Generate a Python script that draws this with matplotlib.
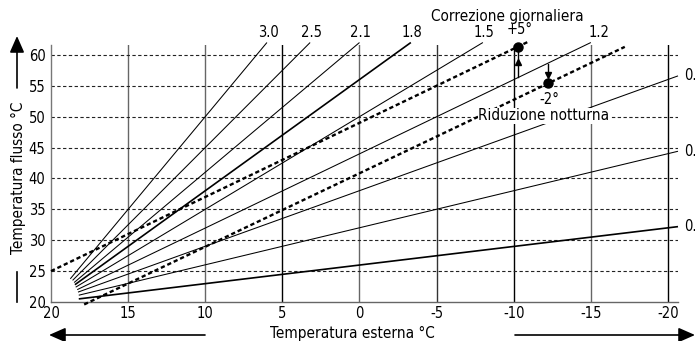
import matplotlib
matplotlib.use("Agg")
import matplotlib.pyplot as plt

plt.rcParams['font.family'] = ['DejaVu Sans']
plt.rcParams['font.stretch'] = 'condensed'

# ---- data ----
curve_labels = ["3.0", "2.5", "2.1", "1.8", "1.5", "1.2", "0.", "0.", "0."]
curve_start_ext = [18.75, 18.6, 18.5, 18.45, 18.4, 18.3, 18.25, 18.2, 18.2]
curve_start_flow = [23.75, 23.5, 23.15, 22.8, 22.4, 22.0, 21.6, 21.1, 20.5]
curve_end_ext = [6.0, 3.2, 0.0, -3.33, -8.0, -15.0, -20.65, -20.65, -20.65]
curve_end_flow = [62.0, 62.0, 62.0, 62.0, 62.0, 62.0, 56.6, 44.4, 32.2]

day_corr_ext = [20.0, -11.0]          # Correzione giornaliera (+5°)
day_corr_flow = [25.0, 62.2]
night_red_ext = [17.85, -17.2]        # Riduzione notturna (-2°)
night_red_flow = [19.6, 61.3]

day_point = (-10.3, 61.3)
day_base_flow = 56.4
night_point = (-12.25, 55.4)
night_base_flow = 58.5

x_ticks = [20, 15, 10, 5, 0, -5, -10, -15, -20]
x_ticklabels = ["20", "15", "10", "5", "0", "-5", "-10", "-15", "-20"]
y_ticks = [20, 25, 30, 35, 40, 45, 50, 55, 60]
y_ticklabels = ["20", "25", "30", "35", "40", "45", "50", "55", "60"]

# ---- figure ----
W, H = 695, 341
fig = plt.figure(figsize=(W / 100, H / 100), dpi=100)
ax = fig.add_axes([51 / W, 1 - 302 / H, 627 / W, 257 / H])
ax.set_xlim(20, -20.65)
ax.set_ylim(20, 61.6)

for s in ["top", "right"]:
    ax.spines[s].set_visible(False)
ax.spines["left"].set_color("#777777")
ax.spines["bottom"].set_color("#666666")
ax.spines["left"].set_linewidth(1.0)
ax.spines["bottom"].set_linewidth(1.0)

ax.set_xticks(x_ticks)
ax.set_xticklabels(x_ticklabels)
ax.set_yticks(y_ticks)
ax.set_yticklabels(y_ticklabels)
ax.tick_params(axis="both", length=0, labelsize=10.5)
ax.tick_params(axis="y", pad=4)
ax.tick_params(axis="x", pad=3)

# grid
vcolors = ["#666666", "#666666", "black", "#666666", "#333333", "black", "#666666", "black"]
for x, c in zip(x_ticks[1:], vcolors):
    ax.axvline(x, color=c, lw=1.0, zorder=1)
for y in y_ticks[1:]:
    ax.axhline(y, color="#222222", lw=0.8, ls=(0, (3, 2.2)), zorder=1)

# curves
bold = {3, 8}
label_dx = {5: 5.0}
for i, (lab, x0, y0, x1, y1) in enumerate(zip(curve_labels, curve_start_ext, curve_start_flow,
                                              curve_end_ext, curve_end_flow)):
    lw = 1.2 if i in bold else 0.75
    ax.plot([x0, x1], [y0, y1], color="black", lw=lw, zorder=3,
            clip_on=False, solid_capstyle="butt")
    if y1 >= 61.6:
        ax.annotate(lab, (x1, y1), xytext=(0.8 + label_dx.get(i, 0), 1.5),
                    textcoords="offset points", ha="center", va="bottom",
                    fontsize=10.5, annotation_clip=False)
    else:
        ax.annotate(lab, (x1, y1), xytext=(4.3, 0), textcoords="offset points",
                    ha="left", va="center", fontsize=10.5, annotation_clip=False)

# corrected curves
ax.plot(day_corr_ext, day_corr_flow, color="black", lw=1.7,
        ls=(0, (1.8, 1.2)), zorder=4, clip_on=False)
ax.plot(night_red_ext, night_red_flow, color="black", lw=1.7,
        ls=(0, (1.8, 1.2)), zorder=4, clip_on=False)

# points and arrows
ax.plot([day_point[0], day_point[0]], [day_base_flow, day_point[1]],
        color="black", lw=1.0, zorder=4, clip_on=False)
ax.plot([day_point[0]], [(day_base_flow + day_point[1]) / 2], marker="^",
        color="black", ms=5, zorder=5, clip_on=False)
ax.plot([day_point[0]], [day_point[1]], marker="o", color="black", ms=6.5,
        zorder=6, clip_on=False)

ax.plot([night_point[0], night_point[0]], [night_base_flow, night_point[1] + 1.3],
        color="black", lw=1.0, zorder=4, clip_on=False)
ax.plot([night_point[0]], [night_point[1] + 1.4], marker="v",
        color="black", ms=5, zorder=5, clip_on=False)
ax.plot([night_point[0]], [night_point[1]], marker="o", color="black", ms=6.5,
        zorder=6, clip_on=False)

# annotation texts (figure pixel positions)
def fp(x, y):
    return (x / W, 1 - y / H)

fig.text(*fp(507, 16), "Correzione giornaliera", ha="center", va="center", fontsize=11)
fig.text(*fp(520, 30), "+5°", ha="center", va="center", fontsize=10.5)
fig.text(*fp(549, 99), "-2°", ha="center", va="center", fontsize=10.5)
fig.text(*fp(544, 116), "Riduzione notturna", ha="center", va="center", fontsize=11,
         zorder=10, bbox=dict(facecolor="white", edgecolor="none", pad=0.6))

fig.text(*fp(352, 333), "Temperatura esterna °C", ha="center", va="center", fontsize=11)
fig.text(*fp(18, 178), "Temperatura flusso °C", ha="center", va="center",
         rotation=90, fontsize=11)

# axis direction arrows
def farrow(x0, y0, x1, y1):
    fig.patches.append(matplotlib.patches.FancyArrowPatch(
        fp(x0, y0), fp(x1, y1), transform=fig.transFigure,
        arrowstyle="-|>,head_length=0.5,head_width=0.22", mutation_scale=20,
        color="black", lw=1.2, shrinkA=0, shrinkB=0))

farrow(205, 335, 49, 335)
farrow(515, 335, 695, 335)
farrow(17, 88, 17, 36)
fig.add_artist(plt.Line2D([17 / W, 17 / W], [1 - 272 / H, 1 - 302 / H],
                          transform=fig.transFigure, color="black", lw=1.2))

fig.savefig("out.png", dpi=100)
